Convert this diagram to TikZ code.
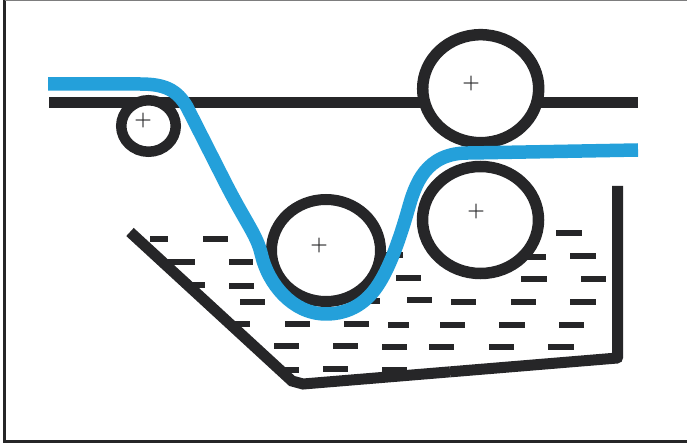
\documentclass[tikz,border=0pt]{standalone}
\usetikzlibrary{shapes.geometric}
\definecolor{belt}{RGB}{36,160,218}
\definecolor{ink}{RGB}{38,38,40}
\tikzset{
  x=1pt,y=-1pt,
  frameline/.style={draw=ink,line width=3pt},
  dashmark/.style={draw=ink,line width=5.6pt},
  tank/.style={draw=ink,line width=11pt},
  felt/.style={draw=ink,line width=11pt},
  roller/.style={draw=ink,fill=white,ellipse,inner sep=0pt,outer sep=0pt},
  fabric/.style={draw=belt,line width=13.5pt},
  centre/.style={text=ink,inner sep=0pt,font=\fontsize{20}{20}\selectfont\bfseries}
}
\begin{document}
\begin{tikzpicture}
\useasboundingbox (0,0) rectangle (687,443);
\fill[white] (0,0) rectangle (687,443);
\draw[frameline] (4.5,0) -- (4.5,441) -- (687,441);
\draw[draw=ink!60,line width=1.2pt] (4.5,0.5) -- (687,0.5);
% liquid
\foreach \a/\b/\y in {150/168/239,203/228/239,168/195/262,229/253/262,190/205/285,229/254/286,240/265/302,
 235/250/324,285/310/324,344/369/324,388/409/325,440/465/325,499/525/325,559/584/325,
 274/299/346,333/358/346,382/407/347,429/454/347,489/514/347,548/574/347,
 282/299/370,323/348/369,382/407/370,
 556/582/233,527/546/257,570/596/256,396/421/278,521/547/279,581/606/279,
 407/432/300,451/476/302,511/536/302,570/596/302,385/403/255,355/380/301}
 {\draw[dashmark] (\a,\y) -- (\b,\y);}
\coordinate (t1) at (130,232);
\coordinate (t2) at (292,381);
\coordinate (t3) at (303,384);
\coordinate (t3b) at (450,371.85);
\coordinate (t4) at (617.5,358);
\coordinate (t5) at (617.5,186);
\draw[tank,line join=miter] (t1) -- (t2) -- (t3) -- (t3b);
\draw[tank,line join=round] (t3b) -- (t4) -- (t5);
\coordinate (f1) at (49,103);
\coordinate (f2) at (638,103);
\draw[felt] (f1) -- (f2);
% rollers
\node[roller,line width=10.5pt,minimum width=54.5pt,minimum height=51.5pt] (small) at (148.5,126) {};
\node[roller,line width=11.5pt,minimum width=116pt,minimum height=108pt] (top) at (480.7,88.7) {};
\node[roller,line width=11.5pt,minimum width=116pt,minimum height=107pt] (low) at (480.5,220) {};
\node[roller,line width=11pt,minimum width=109pt,minimum height=102pt] (mid) at (326,250.5) {};
% fabric
\coordinate (b1) at (48,84);
\coordinate (b2) at (638,150);
\draw[fabric,line join=round] (b1) -- (140,84)
  .. controls (165,84) and (177,90) .. (187,107)
  -- (225,182)
  .. controls (247,225) and (257,235) .. (261.5,255)
  .. controls (268,283) and (292,314) .. (326,314)
  .. controls (350,314) and (367,302) .. (378,285)
  .. controls (388,270) and (398,245) .. (408,210)
  .. controls (415,185) and (425,152) .. (470,153)
  -- (b2);
\node[centre] (p1) at (143,121) {+};
\node[centre] (p2) at (471,84) {+};
\node[centre] (p3) at (476,212) {+};
\node[centre] (p4) at (319,246) {+};
\end{tikzpicture}
\end{document}
